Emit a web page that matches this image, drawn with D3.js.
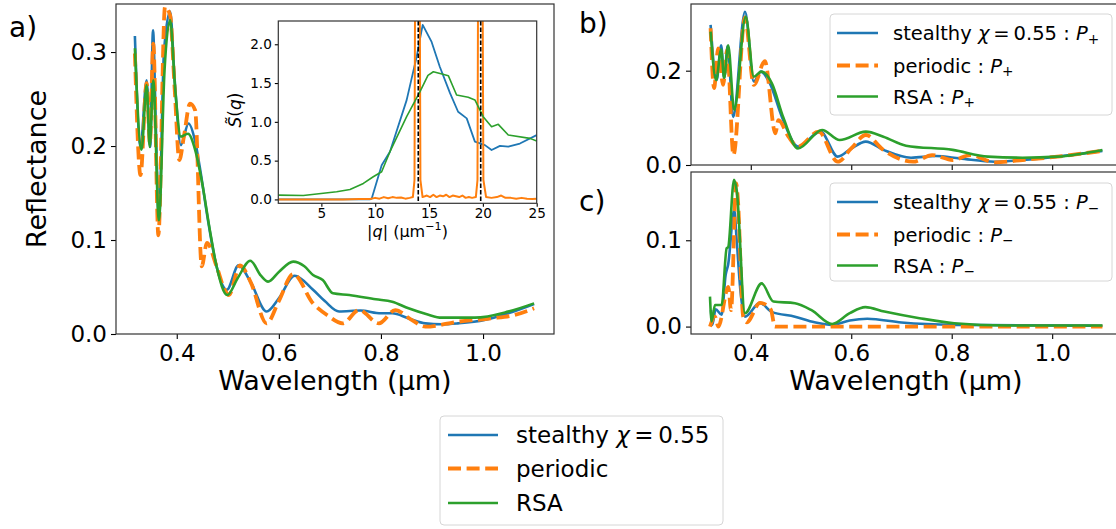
<!DOCTYPE html>
<html><head><meta charset="utf-8">
<script src="https://cdn.jsdelivr.net/npm/d3@7"></script>
<style>
body{margin:0;background:#fff}
svg{display:block}
text{font-family:"DejaVu Sans",sans-serif;fill:#000}
</style>
</head><body>
<svg id="fig" width="1116" height="529"></svg>
<script>
// ---------------- DATA ----------------
// Panel a) total reflectance  [wavelength (µm), reflectance]
const aStealthy = [[0.318,0.317],[0.329,0.199],[0.341,0.270],[0.348,0.199],[0.3535,0.323],[0.359,0.222],[0.365,0.121],[0.375,0.30],[0.387,0.343],[0.396,0.27],[0.408,0.201],[0.423,0.224],[0.436,0.205],[0.445,0.178],[0.46,0.125],[0.478,0.072],[0.498,0.047],[0.521,0.073],[0.545,0.055],[0.576,0.024],[0.60,0.038],[0.631,0.062],[0.667,0.047],[0.69,0.035],[0.718,0.024],[0.76,0.025],[0.80,0.022],[0.822,0.022],[0.854,0.0166],[0.887,0.0113],[0.919,0.0103],[0.951,0.0113],[1.003,0.0148],[1.049,0.022],[1.10,0.032]];
const aPeriodic = [[0.318,0.2985],[0.329,0.169],[0.341,0.267],[0.3475,0.203],[0.354,0.309],[0.364,0.105],[0.377,0.348],[0.387,0.339],[0.396,0.26],[0.405,0.185],[0.414,0.21],[0.426,0.245],[0.436,0.238],[0.449,0.072],[0.459,0.097],[0.478,0.072],[0.494,0.047],[0.502,0.0415],[0.524,0.073],[0.545,0.055],[0.576,0.0113],[0.60,0.035],[0.628,0.0638],[0.667,0.0326],[0.695,0.02],[0.725,0.0113],[0.757,0.0255],[0.796,0.0113],[0.828,0.0255],[0.86,0.015],[0.887,0.0078],[0.951,0.0131],[1.016,0.0166],[1.06,0.02],[1.10,0.0273]];
const aRSA = [[0.318,0.304],[0.331,0.196],[0.341,0.265],[0.347,0.199],[0.354,0.270],[0.365,0.121],[0.376,0.28],[0.387,0.334],[0.397,0.26],[0.408,0.210],[0.422,0.213],[0.436,0.196],[0.45,0.16],[0.465,0.11],[0.478,0.072],[0.499,0.0415],[0.52,0.06],[0.544,0.078],[0.565,0.062],[0.579,0.0557],[0.60,0.066],[0.628,0.077],[0.65,0.072],[0.667,0.0627],[0.686,0.0574],[0.706,0.0433],[0.738,0.0415],[0.79,0.0369],[0.822,0.0344],[0.854,0.0273],[0.89,0.021],[0.919,0.0174],[0.984,0.0174],[1.049,0.0238],[1.10,0.0326]];

// Panel b) P+
const bStealthy = [[0.320,0.297],[0.332,0.180],[0.341,0.254],[0.347,0.184],[0.354,0.252],[0.365,0.102],[0.3885,0.325],[0.406,0.177],[0.420,0.198],[0.438,0.173],[0.462,0.102],[0.494,0.039],[0.539,0.0707],[0.573,0.0177],[0.60,0.035],[0.629,0.0495],[0.664,0.032],[0.719,0.0155],[0.768,0.019],[0.816,0.014],[0.886,0.007],[0.941,0.0106],[1.01,0.0177],[1.10,0.030]];
const bPeriodic = [[0.320,0.29],[0.327,0.163],[0.335,0.247],[0.345,0.17],[0.353,0.244],[0.3655,0.021],[0.3885,0.313],[0.406,0.17],[0.428,0.220],[0.449,0.067],[0.455,0.095],[0.475,0.06],[0.494,0.039],[0.535,0.0707],[0.573,0.007],[0.60,0.035],[0.629,0.0636],[0.664,0.032],[0.723,0.007],[0.761,0.021],[0.802,0.0106],[0.837,0.021],[0.886,0.0057],[0.941,0.0106],[1.01,0.0177],[1.10,0.03]];
const bRSA = [[0.320,0.283],[0.331,0.180],[0.341,0.245],[0.347,0.185],[0.355,0.254],[0.367,0.117],[0.390,0.314],[0.406,0.187],[0.421,0.198],[0.442,0.173],[0.465,0.10],[0.494,0.035],[0.542,0.0742],[0.577,0.053],[0.629,0.0707],[0.664,0.060],[0.709,0.041],[0.802,0.032],[0.872,0.0177],[0.941,0.0155],[1.01,0.0177],[1.10,0.032]];

// Panel c) P-
const cStealthy = [[0.3208,0.019],[0.3234,0.002],[0.33,0.02],[0.342,0.0137],[0.35,0.06],[0.355,0.072],[0.367,0.135],[0.372,0.10],[0.379,0.044],[0.3885,0.0115],[0.4184,0.0275],[0.4417,0.017],[0.488,0.0115],[0.527,0.005],[0.562,0.002],[0.597,0.007],[0.632,0.009],[0.70,0.0047],[0.805,0.002],[1.10,0.001]];
const cPeriodic = [[0.3188,0.0],[0.3288,0.0115],[0.3354,0.0],[0.3553,0.046],[0.3607,0.019],[0.371,0.166],[0.374,0.150],[0.385,0.0115],[0.392,0.005],[0.4184,0.0275],[0.440,0.0197],[0.448,0.0],[0.50,0.0],[1.10,0.0]];
const cRSA = [[0.3188,0.0347],[0.3221,0.006],[0.3288,0.025],[0.342,0.025],[0.352,0.0907],[0.355,0.092],[0.3666,0.170],[0.372,0.158],[0.3885,0.0155],[0.4217,0.050],[0.445,0.029],[0.488,0.027],[0.521,0.019],[0.562,0.003],[0.597,0.0155],[0.628,0.0225],[0.666,0.0174],[0.736,0.0097],[0.805,0.0039],[0.91,0.0012],[1.10,0.0012]];

// Inset: structure factor  [|q| (µm^-1), S(q)]
const sqStealthy = [[1,0],[5,0],[9.5,0.0],[9.67,0.01],[10.6,0.44],[11.37,0.615],[12.92,1.28],[13.85,1.84],[14.41,2.25],[15.24,2.03],[16.0,1.71],[16.95,1.37],[17.7,1.13],[18.5,1.045],[19.26,0.745],[20.19,0.70],[20.81,0.637],[21.59,0.69],[22.36,0.68],[23.44,0.72],[25,0.83]];
const sqPeriodic = [[1,0],[3,0],[5,0],[7,0],[8.5,0.005],[9.5,0.005],[10,0.02],[10.4,0.01],[10.8,0.03],[11.2,0.015],[11.6,0.03],[12,0.02],[12.4,0.025],[12.8,0.01],[13.2,0.02],[13.5,0.03],[13.65,0.25],[13.72,3.5],[14.12,3.5],[14.2,0.25],[14.4,0.03],[14.8,0.05],[15.1,0.03],[15.4,0.06],[15.7,0.03],[16,0.05],[16.3,0.04],[16.6,0.06],[16.9,0.03],[17.2,0.05],[17.5,0.04],[17.8,0.03],[18.1,0.05],[18.4,0.02],[18.7,0.03],[19.0,0.02],[19.35,0.03],[19.5,0.25],[19.57,3.5],[19.95,3.5],[20.05,0.25],[20.3,0.03],[20.8,0.02],[21.3,0.03],[21.7,0.05],[22.1,0.02],[22.6,0.02],[23.1,0.01],[23.6,0.02],[24.1,0.01],[24.6,0.005],[25,0.01]];
const sqRSA = [[1,0.055],[3.32,0.05],[6.42,0.098],[7.66,0.128],[8.9,0.206],[9.82,0.292],[10.6,0.357],[11.37,0.615],[12.92,1.067],[14.16,1.39],[14.9,1.60],[15.4,1.646],[16.2,1.616],[16.79,1.595],[17.56,1.346],[18.64,1.316],[19.26,1.282],[20.03,1.067],[20.81,0.938],[21.43,0.968],[22.36,0.83],[24.37,0.787],[25,0.752]];
const sqMarkers = [14.0, 19.8];

// Ticks and labels
const wlTicks = [0.4, 0.6, 0.8, 1.0];
const aYTicks = [0.0, 0.1, 0.2, 0.3];
const bYTicks = [0.0, 0.2];
const cYTicks = [0.0, 0.1];
const qTicks = [5, 10, 15, 20, 25];
const sYTicks = [0.0, 0.5, 1.0, 1.5, 2.0];
const seriesLabels = ["stealthy", "periodic", "RSA"];
const seriesColors = ["#1f77b4", "#ff7f0e", "#2ca02c"];

// ---------------- DRAWING ----------------
const svg = d3.select("#fig");
const dashes = [null, "13 5.6", null];
const widthsMain = [2.6, 3.8, 2.6];

function panel(box, xdom, ydom) {
  return {
    box,
    x: d3.scaleLinear().domain(xdom).range([box.l, box.r]),
    y: d3.scaleLinear().domain(ydom).range([box.b, box.t])
  };
}
let clipN = 0;
function drawSeries(p, sets, widths, dashArr, curve) {
  const id = "clip" + (clipN++);
  svg.append("clipPath").attr("id", id).append("rect")
    .attr("x", p.box.l).attr("y", p.box.t)
    .attr("width", p.box.r - p.box.l).attr("height", p.box.b - p.box.t);
  const g = svg.append("g").attr("clip-path", `url(#${id})`);
  const line = d3.line().x(d => p.x(d[0])).y(d => p.y(d[1])).curve(curve);
  sets.forEach((d, i) => {
    g.append("path").attr("d", line(d)).attr("fill", "none")
      .attr("stroke", seriesColors[i]).attr("stroke-width", widths[i])
      .attr("stroke-dasharray", dashArr[i]).attr("stroke-linejoin", "round");
  });
  return g;
}
function drawAxes(p, xt, yt, opt) {
  const gx = svg.append("g").attr("transform", `translate(0,${p.box.b})`)
    .call(d3.axisBottom(p.x).tickValues(xt).tickSize(opt.tl).tickPadding(opt.xpad)
      .tickFormat(opt.xlabels ? opt.xfmt : () => ""));
  const gy = svg.append("g").attr("transform", `translate(${p.box.l},0)`)
    .call(d3.axisLeft(p.y).tickValues(yt).tickSize(opt.tl).tickPadding(opt.ypad).tickFormat(opt.yfmt));
  [gx, gy].forEach(g => {
    g.select(".domain").remove();
    g.selectAll("line").attr("stroke", "#000").attr("stroke-width", 1.1);
    g.selectAll("text").attr("font-size", opt.fs).attr("font-family", "DejaVu Sans").attr("fill", "#000");
  });
  svg.append("rect").attr("x", p.box.l).attr("y", p.box.t)
    .attr("width", p.box.r - p.box.l).attr("height", p.box.b - p.box.t)
    .attr("fill", "none").attr("stroke", "#333").attr("stroke-width", 1.2);
}
function richText(sel, parts, fs) {
  parts.forEach(pt => {
    const t = sel.append("tspan").text(pt.t);
    if (pt.i) t.attr("font-style", "italic");
    if (pt.sub) t.attr("font-size", fs * 0.7).attr("dy", fs * 0.2);
    if (pt.sup) t.attr("font-size", fs * 0.7).attr("dy", -fs * 0.4);
    if (pt.back) t.attr("dy", pt.back);
  });
}
function legend(x, y, w, h, rows, fs, handle, textX) {
  svg.append("rect").attr("x", x).attr("y", y).attr("width", w).attr("height", h)
    .attr("rx", 4).attr("fill", "#fff").attr("fill-opacity", 0.85)
    .attr("stroke", "#d6d6d6").attr("stroke-width", 1);
  rows.forEach((r, i) => {
    const cy = y + r.dy;
    svg.append("line").attr("x1", handle[0]).attr("x2", handle[1]).attr("y1", cy).attr("y2", cy)
      .attr("stroke", seriesColors[i]).attr("stroke-width", i === 1 ? 3.8 : 2.6)
      .attr("stroke-dasharray", dashes[i]);
    const t = svg.append("text").attr("x", textX).attr("y", cy + fs * 0.36).attr("font-size", fs);
    richText(t, r.parts, fs);
  });
}

// ---- Panel a ----
const pa = panel({l: 116, r: 554, t: 4, b: 334}, [0.281, 1.139], [0, 0.3511]);
drawSeries(pa, [aStealthy, aPeriodic, aRSA], widthsMain, dashes, d3.curveMonotoneX);
drawAxes(pa, wlTicks, aYTicks, {tl: 5, xpad: 5.5, ypad: 4, fs: 23, xlabels: true, xfmt: d3.format(".1f"), yfmt: d3.format(".1f")});

// inset
const pi = panel({l: 278.3, r: 536.7, t: 21, b: 203.3}, [1, 25], [-0.05, 2.3]);
svg.append("rect").attr("x", pi.box.l).attr("y", pi.box.t).attr("width", pi.box.r - pi.box.l)
  .attr("height", pi.box.b - pi.box.t).attr("fill", "#fff");
const gi = drawSeries(pi, [sqStealthy, sqPeriodic, sqRSA], [1.8, 2.0, 1.6], [null, null, null], d3.curveLinear);
sqMarkers.forEach(q => {
  gi.append("line").attr("x1", pi.x(q)).attr("x2", pi.x(q)).attr("y1", pi.box.t).attr("y2", pi.box.b)
    .attr("stroke", "#000").attr("stroke-width", 1.6).attr("stroke-dasharray", "4.5 2");
});
drawAxes(pi, qTicks, sYTicks, {tl: 3.5, xpad: 2, ypad: 3, fs: 13.6, xlabels: true, xfmt: d3.format("d"), yfmt: d3.format(".1f")});
// inset labels
{
  const t = svg.append("text").attr("x", 407.5).attr("y", 236.5).attr("text-anchor", "middle").attr("font-size", 16);
  richText(t, [{t: "|"}, {t: "q", i: true}, {t: "| (μm"}, {t: "−1", sup: true}, {t: ")", back: 16 * 0.4}], 16);
  const s = svg.append("text").attr("transform", "translate(241,110) rotate(-90)").attr("text-anchor", "middle").attr("font-size", 17);
  richText(s, [{t: "S\u0303", i: true}, {t: "("}, {t: "q", i: true}, {t: ")"}], 17);
}

// ---- Panel b ----
const pb = panel({l: 691, r: 1122, t: 4, b: 165}, [0.281, 1.139], [0, 0.3414]);
drawSeries(pb, [bStealthy, bPeriodic, bRSA], widthsMain, dashes, d3.curveMonotoneX);
drawAxes(pb, wlTicks, bYTicks, {tl: 5, xpad: 5.5, ypad: 4, fs: 23, xlabels: false, xfmt: d3.format(".1f"), yfmt: d3.format(".1f")});

// ---- Panel c ----
const pc = panel({l: 691, r: 1122, t: 172, b: 334}, [0.281, 1.139], [-0.0086, 0.1791]);
drawSeries(pc, [cStealthy, cPeriodic, cRSA], widthsMain, dashes, d3.curveMonotoneX);
drawAxes(pc, wlTicks, cYTicks, {tl: 5, xpad: 5.5, ypad: 4, fs: 23, xlabels: true, xfmt: d3.format(".1f"), yfmt: d3.format(".1f")});

// ---- axis labels ----
svg.append("text").attr("transform", "translate(46,169) rotate(-90)").attr("text-anchor", "middle")
  .attr("font-size", 27).text("Reflectance");
svg.append("text").attr("x", 335).attr("y", 390).attr("text-anchor", "middle").attr("font-size", 27).text("Wavelength (μm)");
svg.append("text").attr("x", 906).attr("y", 390).attr("text-anchor", "middle").attr("font-size", 27).text("Wavelength (μm)");

// ---- panel letters ----
svg.append("text").attr("x", 9).attr("y", 37).attr("font-size", 28).text("a)");
svg.append("text").attr("x", 579).attr("y", 33).attr("font-size", 28).text("b)");
svg.append("text").attr("x", 579).attr("y", 211).attr("font-size", 28).text("c)");

// ---- legends ----
const chiParts = [{t: "stealthy "}, {t: "χ", i: true}, {t: "\u2009=\u20090.55"}];
function polRows(sign) {
  const sub = [{t: " : "}, {t: "P", i: true}, {t: sign, sub: true}];
  return [
    {dy: 19, parts: chiParts.concat(sub)},
    {dy: 51.5, parts: [{t: seriesLabels[1]}].concat(sub)},
    {dy: 82.5, parts: [{t: seriesLabels[2]}].concat(sub)}
  ];
}
legend(830, 14, 282, 101, polRows("+"), 19.5, [837, 878], 893);
legend(830, 183, 282, 98, polRows("−"), 19.5, [837, 878], 893);
legend(440, 416, 283, 109, [
  {dy: 19, parts: chiParts},
  {dy: 52.5, parts: [{t: seriesLabels[1]}]},
  {dy: 87, parts: [{t: seriesLabels[2]}]}
], 23, [448, 498], 516);
</script>
</body></html>
